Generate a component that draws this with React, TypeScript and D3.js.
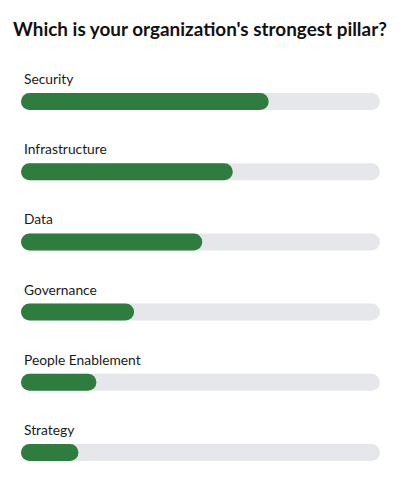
import React, { useEffect, useRef } from "react";
import * as d3 from "d3";

const categories = [
  "Security",
  "Infrastructure",
  "Data",
  "Governance",
  "People Enablement",
  "Strategy",
];
const values = [69, 59, 50.5, 31.5, 21, 16];
const maxValue = 100;

const width = 400;
const height = 499;

const App: React.FC = () => {
  const svgRef = useRef<SVGSVGElement>(null);

  useEffect(() => {
    if (!svgRef.current) return;
    const svg = d3.select(svgRef.current);
    svg.selectAll("*").remove();

    const margin = { left: 21, right: 20, top: 58, rowStep: 70.2 };
    const barH = 17;

    const xScale = d3.scaleLinear()
      .domain([0, maxValue])
      .range([margin.left, width - margin.right]);

    const yScale = d3.scaleBand<string>()
      .domain(categories)
      .range([margin.top, margin.top + margin.rowStep * categories.length])
      .paddingInner(0)
      .paddingOuter(0);

    svg.append("rect")
      .attr("width", width)
      .attr("height", height)
      .attr("fill", "#ffffff");

    svg.append("text")
      .attr("x", width / 2)
      .attr("y", 36)
      .attr("text-anchor", "middle")
      .style("font-family", "Lato, sans-serif")
      .style("font-weight", "bold")
      .style("font-size", "18.9px")
      .attr("fill", "#111111")
      .text("Which is your organization's strongest pillar?");

    const rows = svg.selectAll("g.row")
      .data(categories)
      .join("g")
      .attr("class", "row")
      .attr("transform", d => `translate(0,${yScale(d)})`);

    rows.append("text")
      .attr("x", 24)
      .attr("y", 26)
      .style("font-family", "Lato, sans-serif")
      .style("font-size", "13.8px")
      .attr("fill", "#1a1a1a")
      .text(d => d);

    rows.append("rect")
      .attr("x", xScale(0))
      .attr("y", 35)
      .attr("width", xScale(maxValue) - xScale(0))
      .attr("height", barH)
      .attr("rx", barH / 2)
      .attr("fill", "#e6e7eb");

    rows.append("rect")
      .attr("x", xScale(0))
      .attr("y", 35)
      .attr("width", (d, i) => xScale(values[i]) - xScale(0))
      .attr("height", barH)
      .attr("rx", barH / 2)
      .attr("fill", "#2e7d3f");
  }, []);

  return (
    <svg
      ref={svgRef}
      width={width}
      height={height}
      style={{ position: "absolute", left: 0, top: 0, display: "block" }}
    />
  );
};

export default App;
